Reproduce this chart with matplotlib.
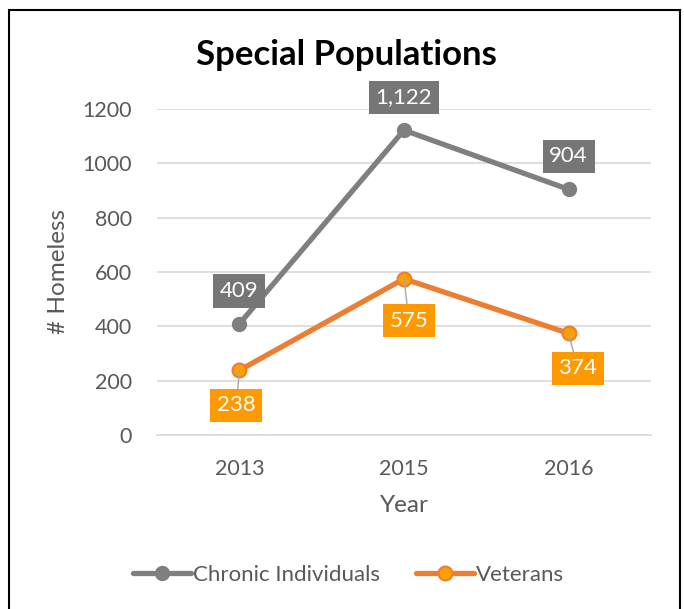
import numpy as np
import matplotlib.pyplot as plt
from matplotlib.patches import Rectangle

plt.rcParams['font.family'] = ['Lato', 'DejaVu Sans']

years = ['2013', '2015', '2016']
chronic = [409, 1122, 904]
veterans = [238, 575, 374]
chronic_labels = ['409', '1,122', '904']
veteran_labels = ['238', '575', '374']
yticks = [0, 200, 400, 600, 800, 1000, 1200]

gray_line = '#7f7f7f'
gray_box = '#767676'
orange_line = '#ed7d31'
orange_fill = '#ffa000'
orange_box = '#ff9900'
txt = '#595959'

fig = plt.figure(figsize=(6.84, 6.09), dpi=100)
ax = fig.add_axes([157/684, 1-435/609, (651-157)/684, (435-109)/609])

x = np.arange(len(years))
ax.plot(x, chronic, color=gray_line, lw=3.8, marker='o', ms=10,
        mfc=gray_line, mec=gray_line, label='Chronic Individuals', zorder=3,
        solid_capstyle='round')
ax.plot(x, veterans, color=orange_line, lw=3.8, marker='o', ms=10,
        mfc=orange_fill, mec=orange_line, mew=1.5, label='Veterans', zorder=3,
        solid_capstyle='round')

# data labels
for xi, v, s in zip(x, chronic, chronic_labels):
    ax.annotate(s, (xi, v), xytext=(0, 33), textcoords='offset pixels',
                ha='center', va='center', color='white', fontsize=16,
                bbox=dict(boxstyle='square,pad=0.3', fc=gray_box, ec='none'),
                zorder=5)

vet_off = [(-3, -35), (5, -42), (9, -35)]
for xi, v, s, off in zip(x, veterans, veteran_labels, vet_off):
    ax.annotate(s, (xi, v), xytext=off, textcoords='offset pixels',
                ha='center', va='center', color='white', fontsize=16,
                bbox=dict(boxstyle='square,pad=0.3', fc=orange_box, ec='none'),
                arrowprops=dict(arrowstyle='-', color='#a6a6a6', lw=1,
                                shrinkA=0, shrinkB=0),
                zorder=5)

ax.set_xlim(-0.5, len(years) - 0.5)
ax.set_ylim(0, 1200)
ax.set_xticks(x)
ax.set_xticklabels(years)
ax.set_yticks(yticks)
ax.tick_params(axis='both', length=0, labelsize=15.5, labelcolor=txt)
ax.tick_params(axis='y', pad=18)
ax.tick_params(axis='x', pad=17)
ax.grid(axis='y', color='#d9d9d9', lw=1.2)
ax.set_axisbelow(True)
for sp in ['top', 'right', 'left']:
    ax.spines[sp].set_visible(False)
ax.spines['bottom'].set_color('#d9d9d9')
ax.spines['bottom'].set_linewidth(1.2)

ax.set_ylabel('# Homeless', fontsize=17.5, color=txt, labelpad=10)
ax.set_xlabel('Year', fontsize=17.5, color=txt, labelpad=12)

fig.text(346/684, 1-55/609, 'Special Populations', ha='center', va='center',
         fontsize=25, fontweight='bold', color='black')

fig.legend(loc='center', bbox_to_anchor=(0.51, 1-575/609), ncol=2,
           frameon=False, fontsize=16, labelcolor=txt, handlelength=2.6,
           columnspacing=1.6, handletextpad=0.1)

fig.patches.append(Rectangle((9/684, -0.05), (680-9)/684, 1.05-10/609,
                             transform=fig.transFigure, fill=False,
                             ec='black', lw=1.5))

fig.savefig('out.png', dpi=100)
